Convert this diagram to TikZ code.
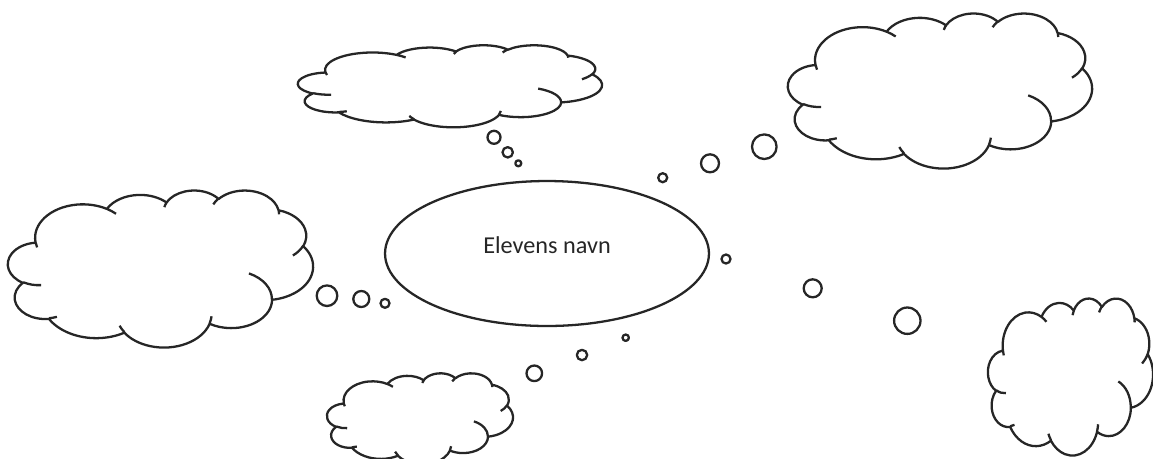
\documentclass[tikz,border=0pt]{standalone}
\usepackage{fontspec}
\setmainfont{Carlito}
\usetikzlibrary{shapes.geometric}

% Elliptical arc in the style of DrawingML "arcTo": radii #1,#2,
% start angle #3 and sweep #4 given as visual angles (degrees).
\newcommand\cloudarc[4]{%
  \pgfmathsetmacro\cloudA{atan2((#1)*sin(#3),(#2)*cos(#3))}%
  \pgfmathsetmacro\cloudB{atan2((#1)*sin((#3)+(#4)),(#2)*cos((#3)+(#4)))}%
  \pgfmathsetmacro\cloudB{\cloudA+mod(\cloudB-\cloudA+720,360)}%
  \pgfpatharc{\cloudA}{\cloudB}{#1cm and #2cm}}

% Cloud outline with its inner creases, on a 43.2 x 43.2 frame (y downwards)
\newcommand\cloudpath{%
  \pgfpathmoveto{\pgfpoint{3.9cm}{14.37cm}}%
  \cloudarc{6.753}{9.190}{-190.4875}{123.7805}%
  \cloudarc{5.333}{7.267}{-144.1024}{89.9452}%
  \cloudarc{4.365}{5.945}{-145.8079}{99.7230}%
  \cloudarc{4.857}{6.595}{-130.9861}{117.2417}%
  \cloudarc{5.333}{7.273}{-78.7089}{109.0269}%
  \cloudarc{6.775}{9.220}{-46.2673}{130.2690}%
  \cloudarc{5.785}{7.867}{0.6250}{114.0333}%
  \cloudarc{6.752}{9.215}{22.4516}{115.1726}%
  \cloudarc{7.720}{10.543}{66.2426}{75.7110}%
  \cloudarc{4.360}{5.918}{-274.9421}{146.7356}%
  \cloudarc{4.345}{5.945}{-246.8285}{152.5189}%
  \pgfpathclose
  \pgfpathmoveto{\pgfpoint{4.693cm}{26.177cm}}\cloudarc{4.345}{5.945}{86.7420}{26.4295}%
  \pgfpathmoveto{\pgfpoint{6.928cm}{34.899cm}}\cloudarc{4.360}{5.918}{73.6105}{11.4475}%
  \pgfpathmoveto{\pgfpoint{16.478cm}{39.090cm}}\cloudarc{6.752}{9.215}{137.6242}{14.0811}%
  \pgfpathmoveto{\pgfpoint{28.827cm}{34.751cm}}\cloudarc{6.752}{9.215}{6.4533}{15.9984}%
  \pgfpathmoveto{\pgfpoint{34.129cm}{22.954cm}}\cloudarc{5.785}{7.867}{-70.2924}{70.9174}%
  \pgfpathmoveto{\pgfpoint{41.798cm}{15.354cm}}\cloudarc{5.333}{7.273}{30.3180}{27.7515}%
  \pgfpathmoveto{\pgfpoint{38.324cm}{5.426cm}}\cloudarc{4.857}{6.595}{-13.7443}{14.8589}%
  \pgfpathmoveto{\pgfpoint{29.078cm}{3.952cm}}\cloudarc{4.857}{6.595}{-149.1815}{18.1954}%
  \pgfpathmoveto{\pgfpoint{22.141cm}{4.720cm}}\cloudarc{4.365}{5.945}{-163.4943}{17.6864}%
  \pgfpathmoveto{\pgfpoint{14.000cm}{5.192cm}}\cloudarc{6.753}{9.190}{-66.7070}{12.3194}%
  \pgfpathmoveto{\pgfpoint{4.127cm}{15.789cm}}\cloudarc{6.753}{9.190}{157.6544}{11.8582}%
  \pgfusepath{stroke}}

% \thoughtcloud{name}{left}{top}{width}{height}, all in pixels
\newcommand\thoughtcloud[5]{%
  \begin{scope}[shift={(#2,#3)}, xscale={#4*0.02/43.2}, yscale={-#5*0.02/43.2}]
    \cloudpath
  \end{scope}
  \coordinate (#1) at ({#2+#4/2},{#3+#5/2});}

\tikzset{
  outline/.style={draw=black!85, line width=1.3pt},
  bubble/.style={outline, circle, inner sep=0pt, outer sep=0pt, minimum size={#1*0.04cm}},
  centre/.style={outline, ellipse, inner sep=0pt, outer sep=0pt,
                 minimum width=6.48cm, minimum height=2.9cm},
}

\begin{document}
\begin{tikzpicture}[x={(0.02cm,0)}, y={(0,-0.02cm)}, line join=round]
  \useasboundingbox (0,0) rectangle (1153,458);

  % central idea
  \node[centre] (student) at (547,253.5) {};
  \node[font=\fontsize{13.8}{16}\selectfont, text=black!85] (name) at (547,245) {Elevens navn};

  % clouds
  \begin{scope}[line width=1.3pt, color=black!85]
    \thoughtcloud{cloudtop}{298}{45}{304}{82}
    \thoughtcloud{cloudtopright}{788}{13}{304}{155}
    \thoughtcloud{cloudleft}{8}{190}{305}{157}
    \thoughtcloud{cloudbottom}{327}{373}{186}{91}
    \thoughtcloud{cloudright}{988}{298}{165}{157}
  \end{scope}

  % thought bubbles, top cloud
  \node[bubble=6.5] (t1) at (494,137.3) {};
  \node[bubble=5.2] (t2) at (507.7,152.3) {};
  \node[bubble=3]   (t3) at (518.3,163.3) {};
  % top right cloud
  \node[bubble=4.5]  (tr1) at (662.7,177.7) {};
  \node[bubble=9]    (tr2) at (710,163.3) {};
  \node[bubble=12.3] (tr3) at (764.3,146.7) {};
  % left cloud
  \node[bubble=10.3] (l1) at (327,295.7) {};
  \node[bubble=8]    (l2) at (361.3,299) {};
  \node[bubble=4.5]  (l3) at (385,303.3) {};
  % bottom cloud
  \node[bubble=7.8] (b1) at (534.3,373.3) {};
  \node[bubble=5.2] (b2) at (582,355) {};
  \node[bubble=3.2] (b3) at (625.7,337.7) {};
  % right cloud
  \node[bubble=4.5]  (r1) at (726,259) {};
  \node[bubble=9]    (r2) at (812.7,288.3) {};
  \node[bubble=13.2] (r3) at (907.3,320.7) {};
\end{tikzpicture}
\end{document}
